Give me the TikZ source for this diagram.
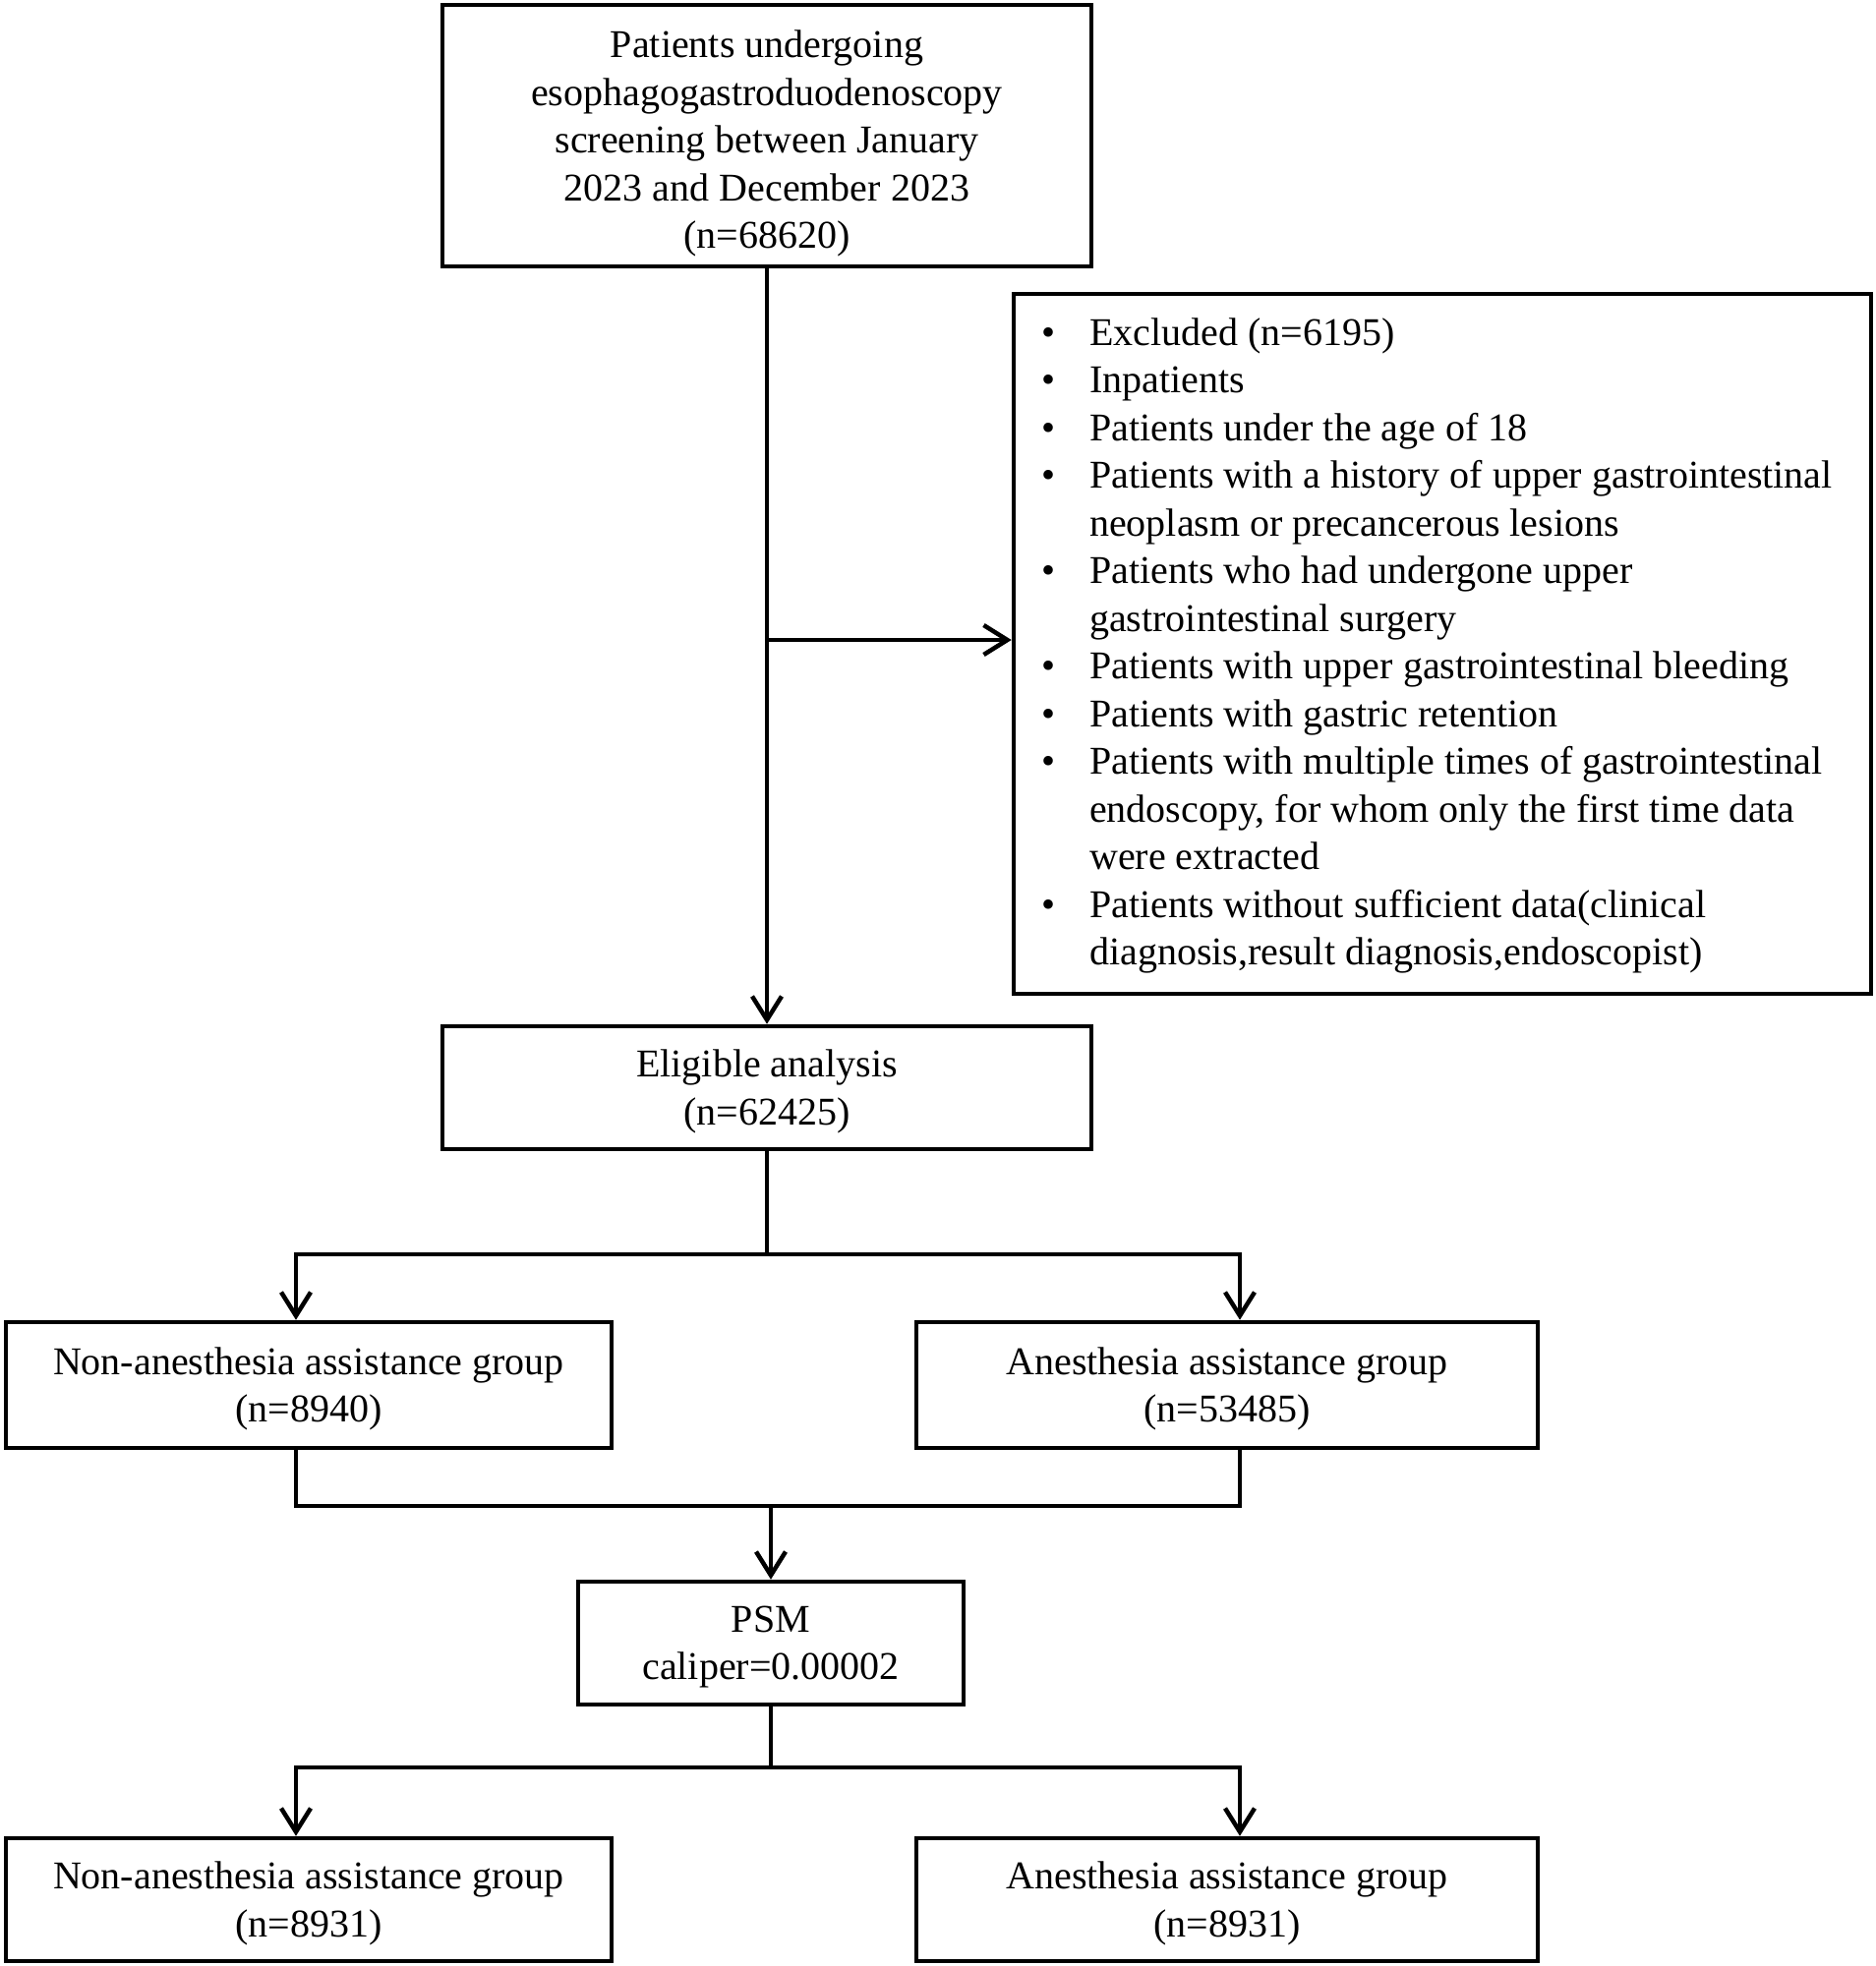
\documentclass[tikz,border=0pt]{standalone}
\usepackage{fontspec}
\setmainfont{Liberation Serif}
\usetikzlibrary{arrows.meta}
\begin{document}
\begin{tikzpicture}[x=1pt,y=-1pt,
  box/.style={draw, line width=4.5pt, inner sep=0pt},
  txt/.style={align=center, inner sep=0pt, font=\fontsize{40}{48.5}\selectfont},
  conn/.style={line width=4.5pt},
  arr/.style={conn, -{Straight Barb[length=24pt,width=30pt,line width=4.5pt]}},
  lbl/.style={inner sep=0pt, anchor=north west, font=\fontsize{40}{48.5}\selectfont}]
\useasboundingbox (0,0) rectangle (1908,2000);
\fill[white] (0,0) rectangle (1908,2000);
% boxes
\node[box, minimum width=660pt, minimum height=266pt] (top) at (780,138) {};
\node[box, minimum width=872pt, minimum height=712pt] (excl) at (1467,655) {};
\node[box, minimum width=660pt, minimum height=125pt] (elig) at (780,1106.5) {};
\node[box, minimum width=616pt, minimum height=128pt] (non1) at (314,1409) {};
\node[box, minimum width=632pt, minimum height=128pt] (an1) at (1248,1409) {};
\node[box, minimum width=392pt, minimum height=125pt] (psm) at (784,1671.5) {};
\node[box, minimum width=616pt, minimum height=125pt] (non2) at (314,1932.5) {};
\node[box, minimum width=632pt, minimum height=125pt] (an2) at (1248,1932.5) {};
% texts
\node[txt] (toptext) at ([yshift=-8pt]top.center)
  {Patients undergoing\\esophagogastroduodenoscopy\\screening between January\\2023 and December 2023\\(n=68620)};
\node[lbl] (excltext) at (1059,317) {%
  \begin{tabular}{@{}p{49pt}@{}l@{}}
  \textbullet & Excluded (n=6195)\\
  \textbullet & Inpatients\\
  \textbullet & Patients under the age of 18\\
  \textbullet & Patients with a history of upper gastrointestinal\\
   & neoplasm or precancerous lesions\\
  \textbullet & Patients who had undergone upper\\
   & gastrointestinal surgery\\
  \textbullet & Patients with upper gastrointestinal bleeding\\
  \textbullet & Patients with gastric retention\\
  \textbullet & Patients with multiple times of gastrointestinal\\
   & endoscopy, for whom only the first time data\\
   & were extracted\\
  \textbullet & Patients without sufficient data(clinical\\
   & diagnosis,result diagnosis,endoscopist)
  \end{tabular}};
\node[txt] (eligtext) at ([yshift=-4pt]elig.center) {Eligible analysis\\(n=62425)};
\node[txt] (non1text) at ([yshift=-4pt]non1.center) {Non-anesthesia assistance group\\(n=8940)};
\node[txt] (an1text) at ([yshift=-4pt]an1.center) {Anesthesia assistance group\\(n=53485)};
\node[txt] (psmtext) at ([yshift=-4pt]psm.center) {PSM\\caliper=0.00002};
\node[txt] (non2text) at ([yshift=-4pt]non2.center) {Non-anesthesia assistance group\\(n=8931)};
\node[txt] (an2text) at ([yshift=-4pt]an2.center) {Anesthesia assistance group\\(n=8931)};
% connectors
\coordinate (j1) at (780,651);
\draw[arr] (top.south) -- (elig.north);
\draw[arr] (j1) -- (excl.west |- j1);
% first split
\coordinate (s1) at (780,1276);
\coordinate (s1l) at (301,1276);
\coordinate (s1r) at (1261,1276);
\draw[conn] (elig.south) -- (s1);
\draw[conn, line cap=rect] (s1l) -- (s1r);
\draw[arr] (s1l) -- (s1l |- non1.north);
\draw[arr] (s1r) -- (s1r |- an1.north);
% merge
\coordinate (m1) at (784,1532);
\coordinate (m1l) at (301,1532);
\coordinate (m1r) at (1261,1532);
\draw[conn] (m1l |- non1.south) -- (m1l) -- (m1r) -- (m1r |- an1.south);
\draw[arr] (m1) -- (psm.north);
% second split
\coordinate (s2) at (784,1798);
\coordinate (s2l) at (301,1798);
\coordinate (s2r) at (1261,1798);
\draw[conn] (psm.south) -- (s2);
\draw[conn, line cap=rect] (s2l) -- (s2r);
\draw[arr] (s2l) -- (s2l |- non2.north);
\draw[arr] (s2r) -- (s2r |- an2.north);
\end{tikzpicture}
\end{document}
